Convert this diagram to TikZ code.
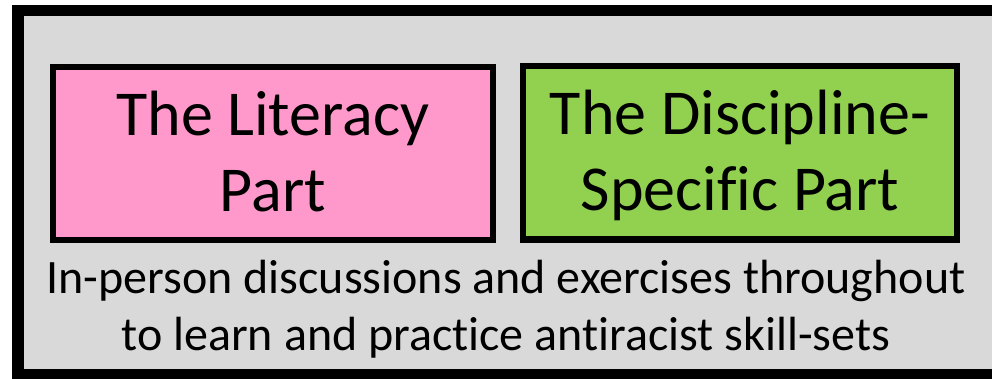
\documentclass[tikz,border=0pt]{standalone}
\usepackage{fontspec}
\setmainfont{Carlito}[Ligatures=NoCommon]
\usetikzlibrary{positioning}
\definecolor{framegray}{HTML}{D9D9D9}
\definecolor{partpink}{HTML}{FF99CC}
\definecolor{partgreen}{HTML}{92D050}
\tikzset{
  partbox/.style={draw=black, line width=6pt, minimum height=173pt, align=center,
    inner sep=0pt, text height=116pt, text depth=0pt, font=\fontsize{64}{76}\selectfont},
}
\begin{document}
\begin{tikzpicture}[x=1pt,y=-1pt]
    \useasboundingbox (0,0) rectangle (992,379);
    \clip (0,0) rectangle (992,379);
    \fill[white] (0,0) rectangle (992,379);
    \draw[line width=11.5pt, fill=framegray] (18,10.5) rectangle (1000,374.5);

    \node[partbox, fill=partpink, minimum width=439.5pt] (literacy) at (272.75,153.5) {The Literacy\\Part};
    \node[partbox, fill=partgreen, minimum width=434pt] (discipline) at (740,153) {The Discipline-\\Specific Part};
    \node[align=center, inner sep=0pt, text height=57pt, text depth=0pt,
      font=\fontsize{48}{57}\selectfont] (skills) at (506,321.5)
      {In-person discussions and exercises throughout\\to learn and practice antiracist skill-sets};
\end{tikzpicture}
\end{document}
